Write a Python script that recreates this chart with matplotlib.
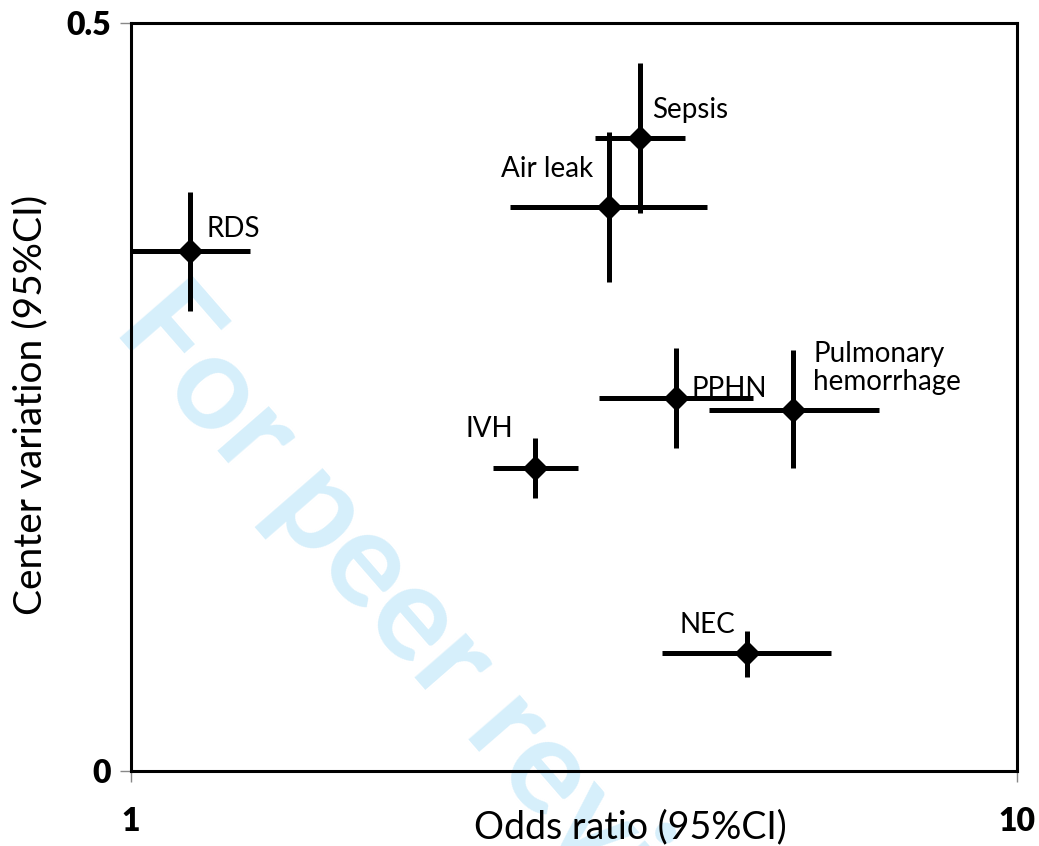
"""Center variation vs odds ratio per outcome, with 95% CI crosses."""

import matplotlib
matplotlib.use('Agg')
import matplotlib.pyplot as plt
from matplotlib.ticker import FixedLocator, NullLocator

plt.rcParams['font.family'] = ['Lato', 'DejaVu Sans']

# outcomes, odds ratio (x) and center variation (y) with 95% CI
outcomes = ['RDS', 'Sepsis', 'Air leak', 'PPHN', 'Pulmonary\nhemorrhage', 'IVH', 'NEC']
odds = [1.166, 3.755, 3.465, 4.120, 5.594, 2.858, 4.955]
odds_lo = [1.000, 3.344, 2.679, 3.377, 4.493, 2.561, 3.973]
odds_hi = [1.363, 4.221, 4.467, 5.032, 6.988, 3.196, 6.168]
var = [0.3477, 0.4233, 0.3772, 0.2494, 0.2412, 0.2026, 0.0785]
var_lo = [0.3076, 0.3731, 0.3270, 0.2160, 0.2022, 0.1826, 0.0629]
var_hi = [0.3868, 0.4730, 0.4273, 0.2827, 0.2812, 0.2225, 0.0934]

# label anchor points (data coords, last-line baseline) and alignment
label_x = [1.219, 3.871, 3.326, 4.295, 5.887, 2.703, 4.475]
label_y = [0.3569, 0.4363, 0.3972, 0.2501, 0.2546, 0.2234, 0.0919]
label_ha = ['left', 'left', 'right', 'left', 'left', 'right', 'center']


def main():
    fig = plt.figure(figsize=(10.39, 8.46), dpi=100)
    ax = fig.add_axes([0.1258, 0.0890, 0.8530, 0.8838])
    ax.set_facecolor('none')

    # watermark behind everything
    fig.text(0.107, 0.611, 'For peer review', rotation=-49,
             rotation_mode='anchor', ha='left', va='baseline',
             fontsize=96, fontweight='bold', color='#d6effb', zorder=-5)

    xerr = [[o - l for o, l in zip(odds, odds_lo)],
            [h - o for o, h in zip(odds, odds_hi)]]
    yerr = [[v - l for v, l in zip(var, var_lo)],
            [h - v for v, h in zip(var, var_hi)]]
    ax.errorbar(odds, var, xerr=xerr, yerr=yerr, fmt='D', color='black',
                ecolor='black', elinewidth=3.6, capsize=0, markersize=12,
                clip_on=False, zorder=3)

    for name, x, y, ha in zip(outcomes, label_x, label_y, label_ha):
        ax.text(x, y, name, ha=ha, va='baseline', fontsize=20,
                linespacing=1.1)

    # axes
    ax.set_xscale('log')
    ax.set_xlim(1, 10)
    ax.set_ylim(0, 0.5)
    ax.xaxis.set_major_locator(FixedLocator([1, 10]))
    ax.xaxis.set_minor_locator(NullLocator())
    ax.set_xticklabels(['1', '10'])
    ax.set_yticks([0, 0.5])
    ax.set_yticklabels(['0', '0.5'])
    ax.tick_params(axis='both', direction='out', length=8, width=1,
                   color='#888888', labelsize=23)
    ax.tick_params(axis='x', pad=18)
    ax.tick_params(axis='y', pad=6)
    for lab in ax.get_xticklabels() + ax.get_yticklabels():
        lab.set_fontweight('heavy')

    for side in ['left', 'right', 'top', 'bottom']:
        ax.spines[side].set_color('black')
        ax.spines[side].set_linewidth(2.2)

    ax.set_xlabel('Odds ratio (95%CI)', fontsize=27, va='center')
    ax.xaxis.set_label_coords(0.564, -0.076)
    ax.set_ylabel('Center variation (95%CI)', fontsize=28, va='center')
    ax.yaxis.set_label_coords(-0.113, 0.489)

    fig.savefig('out.png', dpi=100)


if __name__ == '__main__':
    main()
